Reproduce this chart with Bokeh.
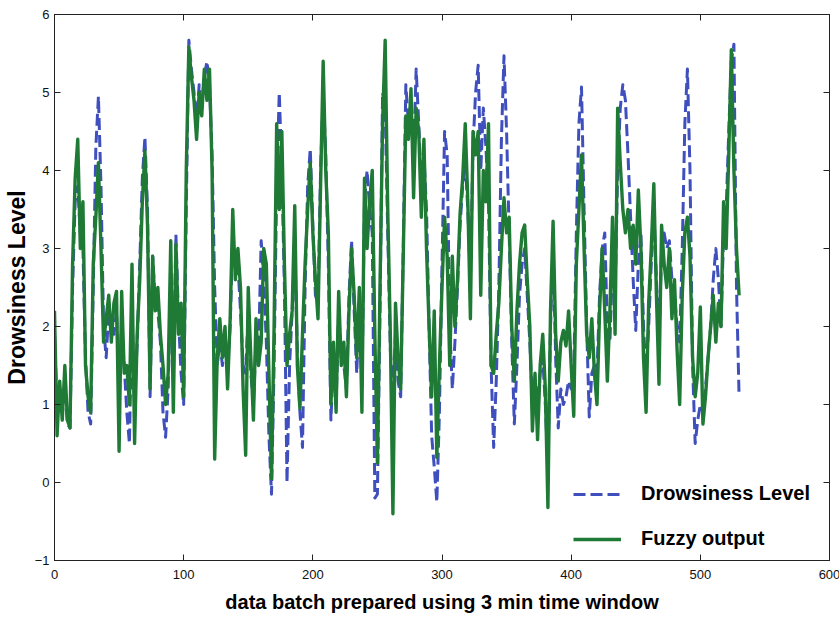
import numpy as np
from bokeh.plotting import figure
from bokeh.models import Range1d, LinearAxis, FixedTicker, Legend, LegendItem, CustomJSTickFormatter
from bokeh.embed import file_html
from bokeh.resources import INLINE

# sample spacing (data batch index step)
step = 2

fuzzy_output = [
    2.2, 0.6, 1.3, 0.8, 1.5,
    0.8, 0.7, 2.8, 3.9, 4.4,
    3.0, 3.6, 1.5, 1.1, 0.9,
    2.8, 3.4, 4.1, 3.0, 1.8,
    2.1, 2.4, 1.8, 2.3, 2.45,
    0.4, 2.45, 1.4, 1.5, 1.0,
    2.8, 0.5, 1.9, 2.6, 3.6,
    4.25, 3.3, 1.2, 2.9, 2.2,
    2.5, 1.9, 1.5, 1.0, 1.4,
    3.1, 0.9, 3.05, 1.9, 2.3,
    1.1, 4.0, 5.58, 5.2, 4.9,
    4.4, 5.0, 4.7, 5.3, 4.9,
    5.3, 4.0, 0.3, 1.6, 2.1,
    1.6, 2.0, 1.2, 2.1, 3.5,
    2.6, 3.0, 2.5, 1.2, 0.35,
    2.5, 1.6, 0.8, 2.1, 1.5,
    1.8, 3.0, 2.8, 1.4, 0.05,
    2.0, 4.6, 3.5, 4.5, 2.8,
    1.5, 1.9, 2.2, 3.55, 1.5,
    0.95, 1.9, 2.8, 3.5, 4.1,
    3.2, 2.6, 2.1, 3.8, 5.4,
    4.0, 3.2, 1.0, 1.8, 0.9,
    2.45, 1.5, 1.8, 1.1, 2.2,
    3.0, 2.4, 1.6, 2.5, 0.9,
    3.9, 3.0, 3.6, 4.0, 1.9,
    0.25, 2.5, 4.6, 5.67, 3.5,
    1.9, -0.4, 2.3, 1.6, 1.2,
    2.9, 4.7, 4.4, 5.05, 3.65,
    4.8, 4.5, 3.4, 4.4, 3.0,
    2.0, 1.1, 2.2, 0.32, 1.5,
    2.5, 3.4, 2.9, 1.5, 2.9,
    2.0, 2.6, 3.45, 3.9, 4.6,
    3.6, 2.1, 4.5, 4.2, 4.5,
    2.4, 4.0, 3.6, 4.6, 1.5,
    1.4, 1.9, 2.3, 3.0, 3.65,
    3.2, 3.4, 2.0, 1.3, 2.2,
    2.8, 3.2, 3.3, 2.6, 2.0,
    0.66, 1.4, 0.55, 1.5, 1.9,
    1.2, -0.32, 2.2, 3.35, 1.9,
    1.3, 1.8, 1.95, 1.75, 2.2,
    1.5, 0.85, 2.8, 3.5, 4.2,
    3.0, 1.9, 1.6, 2.1, 1.4,
    1.0, 2.2, 3.0, 2.2, 1.3,
    2.2, 3.4, 1.9, 4.8, 4.1,
    3.5, 3.2, 3.5, 3.0, 3.3,
    2.8, 3.75, 3.0, 1.6, 0.9,
    2.3, 3.0, 3.83, 2.4, 1.26,
    3.3, 2.8, 2.5, 3.0, 2.1,
    2.6, 1.7, 1.0, 2.4, 3.2,
    3.4, 2.9, 1.6, 1.1, 1.4,
    2.25, 0.75, 1.1, 1.6, 2.0,
    2.4, 1.8, 2.3, 2.0, 3.6,
    3.0, 4.2, 5.55, 4.0, 3.0,
    2.4,
]

drowsiness_level = [
    1.9, 1.0, 1.2, 0.9, 1.2,
    0.75, 0.7, 2.5, 3.6, 3.8,
    3.2, 3.0, 1.6, 0.9, 0.75,
    2.5, 4.3, 4.95, 3.8, 2.0,
    1.6, 2.2, 2.0, 1.9, 2.2,
    1.2, 2.0, 1.5, 0.9, 0.5,
    2.2, 1.0, 1.8, 2.8, 3.9,
    4.43, 3.5, 1.1, 2.9, 2.3,
    2.2, 1.8, 0.9, 0.58, 1.2,
    2.6, 1.3, 3.18, 2.1, 1.4,
    1.0, 3.5, 5.67, 5.3, 5.0,
    4.6, 5.1, 4.8, 5.2, 5.4,
    5.1, 4.2, 2.5, 1.5, 1.8,
    1.5, 1.8, 1.5, 2.0, 3.2,
    2.8, 2.8, 2.2, 1.5, 1.4,
    2.2, 1.4, 1.0, 1.8, 1.7,
    3.1, 2.6, 1.8, 0.6, -0.15,
    1.5, 3.8, 5.0, 4.0, 2.5,
    0.0, 1.5, 2.2, 3.0, 1.7,
    0.9, 0.45, 2.5, 3.8, 4.28,
    3.3, 2.4, 2.3, 4.0, 5.0,
    4.2, 2.8, 0.8, 1.6, 1.0,
    2.2, 1.6, 1.5, 1.2, 2.4,
    3.1, 2.2, 1.4, 2.3, 1.2,
    3.6, 4.0, 3.5, 3.2, -0.2,
    -0.15, 2.2, 5.0, 4.8, 3.2,
    1.7, 1.1, 1.9, 1.3, 1.1,
    3.0, 5.1, 4.6, 4.8, 4.2,
    5.3, 4.6, 3.8, 4.2, 3.5,
    2.0, 0.6, 0.2, -0.25, 0.9,
    2.8, 4.5, 4.2, 2.0, 1.2,
    1.8, 2.5, 3.3, 3.8, 4.1,
    3.5, 2.6, 4.3, 5.0, 5.35,
    4.0, 4.8, 4.3, 3.6, 1.5,
    0.45, 1.3, 2.5, 4.4, 5.47,
    4.5, 3.2, 1.8, 0.75, 1.5,
    2.4, 2.8, 3.0, 2.4, 1.8,
    1.0, 1.2, 1.1, 1.4, 1.6,
    1.0, 0.2, 2.0, 3.0, 1.6,
    0.7, 1.2, 1.0, 1.1, 1.3,
    1.2, 1.4, 3.2, 4.6, 5.07,
    3.5, 2.0, 0.84, 1.4, 1.5,
    1.4, 2.4, 3.0, 3.2, 2.0,
    1.8, 2.8, 2.4, 4.0, 4.8,
    5.1, 4.9, 4.2, 3.4, 2.6,
    1.95, 2.8, 3.2, 2.0, 1.4,
    2.0, 2.8, 3.5, 2.6, 1.8,
    3.0, 3.2, 3.0, 3.1, 2.6,
    2.4, 2.0, 1.8, 3.0, 4.6,
    5.3, 4.0, 1.5, 0.5, 0.8,
    1.0, 0.9, 1.2, 1.6, 2.0,
    2.6, 3.0, 2.6, 2.0, 3.2,
    3.5, 4.5, 5.4, 5.62, 2.5,
    1.1,
]

x_ticks = [0, 100, 200, 300, 400, 500, 600]
y_ticks = [-1, 0, 1, 2, 3, 4, 5, 6]

x_fuzzy = np.arange(len(fuzzy_output)) * step
x_drowsy = np.arange(len(drowsiness_level)) * step

BLUE = "#3F4FBE"
GREEN = "#1F7A35"
AXIS = "#222222"
TICK_FONT = "Liberation Sans Narrow, Liberation Sans, Arial, sans-serif"
LABEL_FONT = "Liberation Sans, Arial, sans-serif"

p = figure(
    frame_width=775, frame_height=546,
    x_range=Range1d(0, 600), y_range=Range1d(-1, 6),
    output_backend="svg", toolbar_location=None,
    min_border_left=53, min_border_right=11,
    min_border_top=14, min_border_bottom=59,
    background_fill_color="white", border_fill_color="white",
)
p.outline_line_color = AXIS
p.outline_line_width = 1
p.xgrid.grid_line_color = None
p.ygrid.grid_line_color = None

for ax, ticks in ((p.xaxis[0], x_ticks), (p.yaxis[0], y_ticks)):
    ax.ticker = FixedTicker(ticks=ticks)
    ax.major_tick_in = 6
    ax.major_tick_out = 0
    ax.minor_tick_line_color = None
    ax.axis_line_color = AXIS
    ax.major_tick_line_color = AXIS
    ax.major_label_text_font = TICK_FONT
    ax.major_label_text_font_size = "13px"
    ax.major_label_text_color = "#111111"
    ax.axis_label_text_font = LABEL_FONT
    ax.axis_label_text_font_style = "bold"
    ax.axis_label_text_color = "#000000"

p.xaxis[0].axis_label = "data batch prepared using 3 min time window"
p.xaxis[0].axis_label_text_font_size = "20px"
p.xaxis[0].major_label_standoff = 9
p.xaxis[0].axis_label_standoff = 9
p.yaxis[0].axis_label = "Drowsiness Level"
p.yaxis[0].axis_label_text_font_size = "23px"
p.yaxis[0].major_label_standoff = 5
p.yaxis[0].axis_label_standoff = 2

# box ticks on top and right (no labels)
top = LinearAxis(ticker=FixedTicker(ticks=x_ticks), major_tick_in=6, major_tick_out=0,
                 minor_tick_line_color=None, formatter=CustomJSTickFormatter(code="return ''"),
                 major_label_standoff=0, axis_line_color=AXIS,
                 major_tick_line_color=AXIS)
right = LinearAxis(ticker=FixedTicker(ticks=y_ticks), major_tick_in=6, major_tick_out=0,
                   minor_tick_line_color=None, formatter=CustomJSTickFormatter(code="return ''"),
                   major_label_standoff=0, axis_line_color=AXIS,
                   major_tick_line_color=AXIS)
p.add_layout(top, "above")
p.add_layout(right, "right")

r_d = p.line(x_drowsy, drowsiness_level, line_color=BLUE, line_width=3,
             line_dash="12 5", line_join="round")
r_f = p.line(x_fuzzy, fuzzy_output, line_color=GREEN, line_width=3.4,
             line_join="round")

legend = Legend(
    items=[LegendItem(label="Drowsiness Level", renderers=[r_d]),
           LegendItem(label="Fuzzy output", renderers=[r_f])],
    location=(514, 5),
    border_line_alpha=0, background_fill_alpha=0,
    label_text_font=LABEL_FONT, label_text_font_style="bold",
    label_text_font_size="20px", label_text_color="#000000",
    glyph_width=48, glyph_height=20, label_height=20,
    label_standoff=20, spacing=22, padding=5, margin=0,
)
p.add_layout(legend)

open("out.html", "w").write(file_html(p, INLINE))
